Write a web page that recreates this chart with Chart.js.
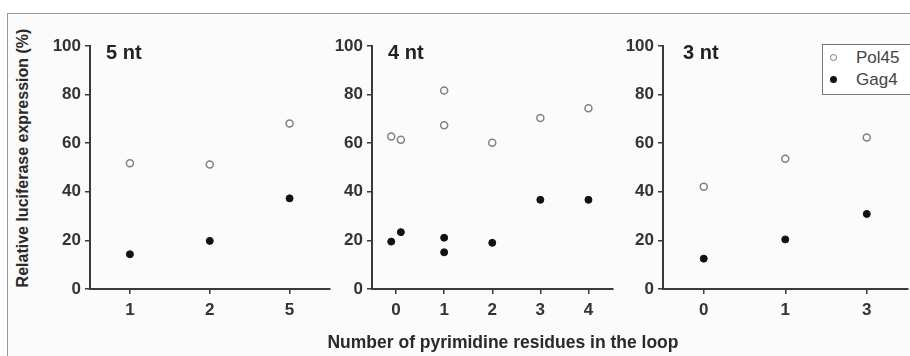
<!DOCTYPE html>
<html>
<head>
<meta charset="utf-8">
<script src="https://cdn.jsdelivr.net/npm/chart.js@4.4.1/dist/chart.umd.min.js"></script>
<style>
html, body { margin: 0; padding: 0; background: #fff; overflow: hidden; width: 910px; height: 356px; position: relative; font-family: "Liberation Sans", Arial, sans-serif; }
#frame { position: absolute; left: 7px; top: 13px; width: 920px; height: 360px; border-left: 1px solid #999; border-top: 1px solid #999; background: #fbfbfb; }
.panel { position: absolute; top: 0; height: 356px; }
#ytitle { position: absolute; left: 23px; top: 158px; transform: translate(-50%, -50%) rotate(-90deg); white-space: nowrap; font-weight: bold; font-size: 16px; color: #2a2a2a; }
#xtitle { position: absolute; left: 503px; top: 342px; transform: translate(-50%, -50%); white-space: nowrap; font-weight: bold; font-size: 17.5px; color: #2a2a2a; }
#legend { position: absolute; left: 822px; top: 44px; width: 95px; height: 49px; border: 1px solid #777; background: #fff; font-size: 17px; color: #444; }
#legend div { position: absolute; left: 33px; line-height: 20px; }
#legend span { position: absolute; left: -26px; top: 6px; width: 7px; height: 7px; border-radius: 50%; box-sizing: border-box; }
</style>
</head>
<body>
<div id="frame"></div>
<canvas id="c5" class="panel" style="left:46px;width:289px" width="289" height="356"></canvas>
<canvas id="c4" class="panel" style="left:328px;width:290px" width="290" height="356"></canvas>
<canvas id="c3" class="panel" style="left:619px;width:294px" width="294" height="356"></canvas>
<div id="ytitle">Relative luciferase expression (%)</div>
<div id="xtitle">Number of pyrimidine residues in the loop</div>
<div id="legend">
  <div style="top:3px"><span style="border:1.5px solid #777;background:#fff"></span>Pol45</div>
  <div style="top:25px"><span style="background:#111"></span>Gag4</div>
</div>
<script>
const yTicks = [0, 20, 40, 60, 80, 100];

// 5 nt loop
const cats5nt = ['1', '2', '5'];
const pol45Pos5nt = [0, 1, 2];
const pol45_5nt = [51.7, 51.2, 68.1];
const gag4Pos5nt = [0, 1, 2];
const gag4_5nt = [14.3, 19.8, 37.3];

// 4 nt loop (replicates at 0 are drawn side by side)
const cats4nt = ['0', '1', '2', '3', '4'];
const pol45Pos4nt = [-0.1, 0.1, 1, 1, 2, 3, 4];
const pol45_4nt = [62.8, 61.4, 81.7, 67.4, 60.2, 70.4, 74.4];
const gag4Pos4nt = [-0.1, 0.1, 1, 1, 2, 3, 4];
const gag4_4nt = [19.5, 23.4, 21.1, 15.1, 19.0, 36.7, 36.7];

// 3 nt loop
const cats3nt = ['0', '1', '3'];
const pol45Pos3nt = [0, 1, 2];
const pol45_3nt = [42.1, 53.6, 62.3];
const gag4Pos3nt = [0, 1, 2];
const gag4_3nt = [12.5, 20.4, 30.9];

const axisColor = '#3a3a3a';
const tickFont = { family: '"Liberation Sans", Arial, sans-serif', size: 17, weight: 'bold' };

const panelTitle = {
  id: 'panelTitle',
  afterDraw(chart, args, opts) {
    const { ctx, chartArea } = chart;
    ctx.save();
    ctx.font = 'bold 20px "Liberation Sans", Arial, sans-serif';
    ctx.fillStyle = '#222';
    ctx.textBaseline = 'middle';
    ctx.fillText(opts.text, chartArea.left + opts.dx, chartArea.top + 7);
    ctx.restore();
  }
};

function toPoints(xs, ys) {
  return xs.map((x, i) => ({ x: x, y: ys[i] }));
}

function makePanel(id, cats, pol45Pos, pol45, gag4Pos, gag4, title, dx) {
  new Chart(document.getElementById(id), {
    type: 'scatter',
    data: {
      datasets: [{
        label: 'Pol45',
        data: toPoints(pol45Pos, pol45),
        pointRadius: 3.5,
        pointBorderWidth: 1.5,
        borderColor: '#808080',
        backgroundColor: '#fff'
      }, {
        label: 'Gag4',
        data: toPoints(gag4Pos, gag4),
        pointRadius: 3.5,
        pointBorderWidth: 1,
        borderColor: '#111',
        backgroundColor: '#111'
      }]
    },
    options: {
      responsive: false,
      animation: false,
      layout: { padding: { top: 46, bottom: 37, left: 0, right: 0 } },
      plugins: {
        legend: { display: false },
        tooltip: { enabled: false },
        panelTitle: { text: title, dx: dx }
      },
      scales: {
        x: {
          type: 'linear',
          min: -0.5,
          max: cats.length - 0.5,
          afterBuildTicks: s => { s.ticks = cats.map((c, i) => ({ value: i })); },
          afterFit: s => { s.height = 30; },
          border: { display: true, color: axisColor, width: 2 },
          grid: { drawOnChartArea: false, drawTicks: true, tickLength: 5, color: axisColor, lineWidth: 1.5 },
          ticks: { callback: (v) => cats[v], font: tickFont, color: '#333', padding: 6, maxRotation: 0 }
        },
        y: {
          min: 0,
          max: 100,
          afterBuildTicks: s => { s.ticks = yTicks.map(v => ({ value: v })); },
          afterFit: s => { s.width = 44; },
          border: { display: true, color: axisColor, width: 2 },
          grid: { drawOnChartArea: false, drawTicks: true, tickLength: 5, color: axisColor, lineWidth: 1.5 },
          ticks: { font: tickFont, color: '#333', padding: 4 }
        }
      }
    },
    plugins: [panelTitle]
  });
}

makePanel('c5', cats5nt, pol45Pos5nt, pol45_5nt, gag4Pos5nt, gag4_5nt, '5 nt', 16);
makePanel('c4', cats4nt, pol45Pos4nt, pol45_4nt, gag4Pos4nt, gag4_4nt, '4 nt', 16);
makePanel('c3', cats3nt, pol45Pos3nt, pol45_3nt, gag4Pos3nt, gag4_3nt, '3 nt', 20);
</script>
</body>
</html>
